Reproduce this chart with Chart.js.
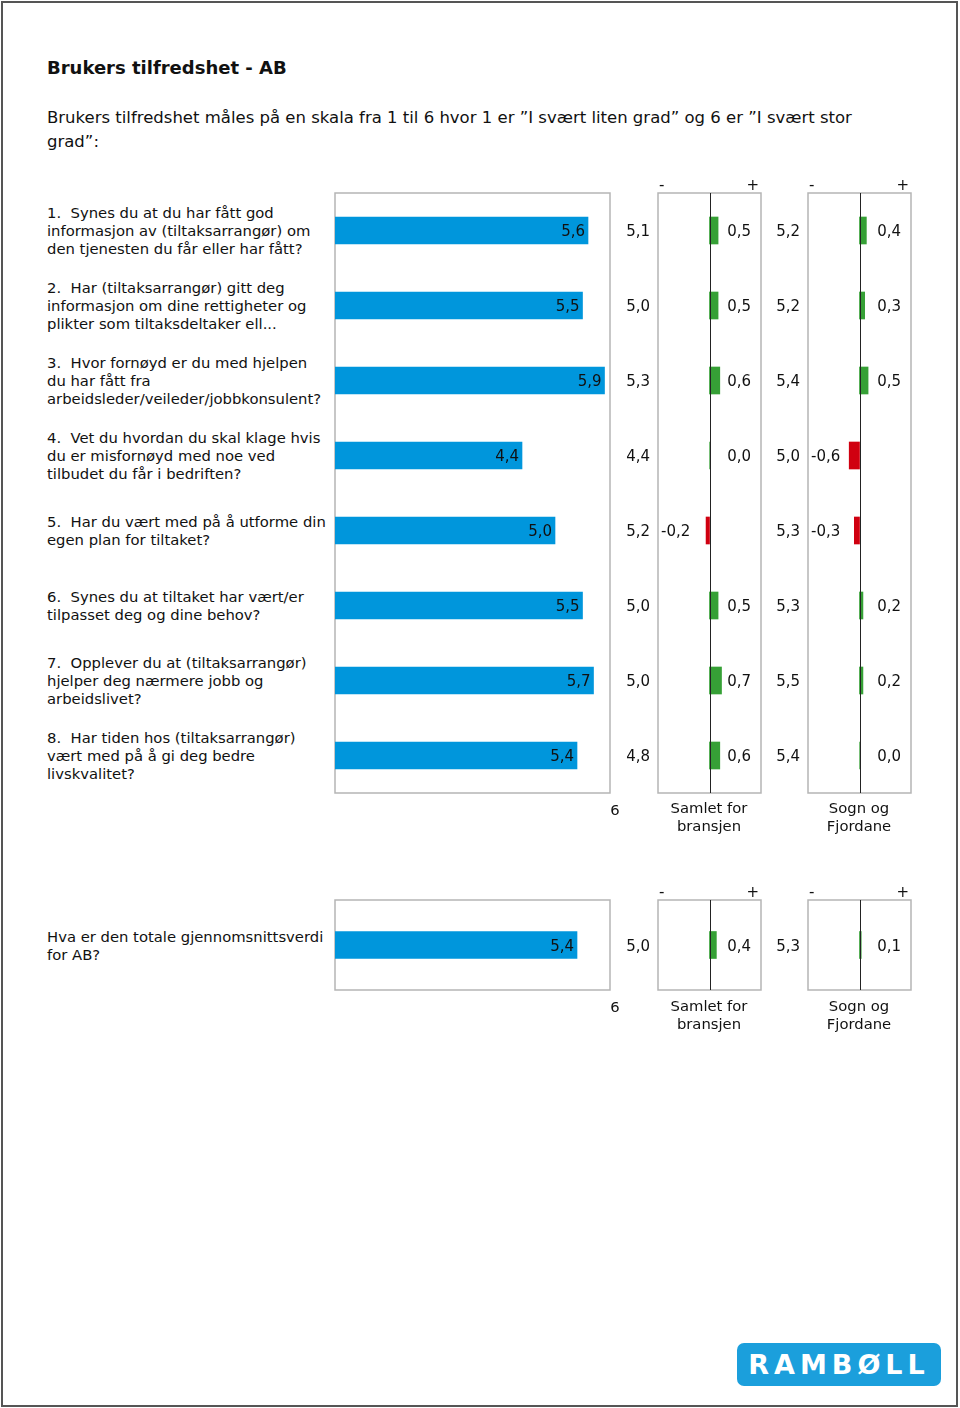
<!DOCTYPE html>
<html>
<head>
<meta charset="utf-8">
<script src="https://cdn.jsdelivr.net/npm/chart.js@4/dist/chart.umd.min.js"></script>
<style>
  body { margin:0; background:#fff; }
  #page { position:relative; width:960px; height:1408px; font-family:"DejaVu Sans", Verdana, sans-serif; color:#111; }
  #frame { position:absolute; left:1px; top:1px; width:953px; height:1402px; border:2px solid #555; }
  .abs { position:absolute; }
  h1 { position:absolute; left:47px; top:57px; margin:0; font-size:18px; font-weight:bold; }
  #intro { left:47px; top:106px; font-size:16.5px; line-height:24px; white-space:nowrap; }
  .qcol { position:absolute; left:47px; width:285px; }
  .q { height:75px; display:flex; align-items:center; font-size:14.8px; line-height:18px; white-space:pre; }
  .lbl { font-size:14.8px; line-height:18px; text-align:center; }
  canvas { position:absolute; }
  #logo { left:737px; top:1343px; width:204px; height:43px; background:#1b9fdc; border-radius:7px;
          color:#fff; font-weight:bold; font-size:27px; letter-spacing:5px; text-align:center; line-height:43px; }
</style>
</head>
<body>
<div id="page">
  <div id="frame"></div>
  <h1>Brukers tilfredshet - AB</h1>
  <div id="intro" class="abs">Brukers tilfredshet måles på en skala fra 1 til 6 hvor 1 er ”I svært liten grad” og 6 er ”I svært stor<br>grad”:</div>

  <div id="qcol1" class="qcol" style="top:193px"></div>
  <canvas id="main1" width="290" height="610" style="left:330px;top:188px"></canvas>
  <canvas id="diffB1" width="161" height="628" style="left:605px;top:170px"></canvas>
  <canvas id="diffS1" width="161" height="628" style="left:755px;top:170px"></canvas>
  <div class="abs lbl" style="left:607px;top:801px;width:16px">6</div>
  <div class="abs lbl" style="left:657px;top:799px;width:104px">Samlet for<br>bransjen</div>
  <div class="abs lbl" style="left:807px;top:799px;width:104px">Sogn og<br>Fjordane</div>

  <div id="qcol2" class="qcol" style="top:908px"></div>
  <canvas id="main2" width="290" height="100" style="left:330px;top:895px"></canvas>
  <canvas id="diffB2" width="161" height="118" style="left:605px;top:877px"></canvas>
  <canvas id="diffS2" width="161" height="118" style="left:755px;top:877px"></canvas>
  <div class="abs lbl" style="left:607px;top:998px;width:16px">6</div>
  <div class="abs lbl" style="left:657px;top:997px;width:104px">Samlet for<br>bransjen</div>
  <div class="abs lbl" style="left:807px;top:997px;width:104px">Sogn og<br>Fjordane</div>

  <div id="logo" class="abs">RAMBØLL</div>
</div>

<script>
var questions = [
  "1.  Synes du at du har fått god\ninformasjon av (tiltaksarrangør) om\nden tjenesten du får eller har fått?",
  "2.  Har (tiltaksarrangør) gitt deg\ninformasjon om dine rettigheter og\nplikter som tiltaksdeltaker ell...",
  "3.  Hvor fornøyd er du med hjelpen\ndu har fått fra\narbeidsleder/veileder/jobbkonsulent?",
  "4.  Vet du hvordan du skal klage hvis\ndu er misfornøyd med noe ved\ntilbudet du får i bedriften?",
  "5.  Har du vært med på å utforme din\negen plan for tiltaket?",
  "6.  Synes du at tiltaket har vært/er\ntilpasset deg og dine behov?",
  "7.  Opplever du at (tiltaksarrangør)\nhjelper deg nærmere jobb og\narbeidslivet?",
  "8.  Har tiden hos (tiltaksarrangør)\nvært med på å gi deg bedre\nlivskvalitet?"
];
var abValues       = [5.6, 5.5, 5.9, 4.4, 5.0, 5.5, 5.7, 5.4];
var bransjenValues = [5.1, 5.0, 5.3, 4.4, 5.2, 5.0, 5.0, 4.8];
var bransjenDiff   = [0.5, 0.5, 0.6, 0.0, -0.2, 0.5, 0.7, 0.6];
var sognValues     = [5.2, 5.2, 5.4, 5.0, 5.3, 5.3, 5.5, 5.4];
var sognDiff       = [0.4, 0.3, 0.5, -0.6, -0.3, 0.2, 0.2, 0.0];

var totalQuestion = ["Hva er den totale gjennomsnittsverdi\nfor AB?"];
var totalAb = [5.4];
var totalBransjen = [5.0];
var totalBransjenDiff = [0.4];
var totalSogn = [5.3];
var totalSognDiff = [0.1];

var FONT = '15px "DejaVu Sans", Verdana, sans-serif';
var BLUE = '#0096dc', GREEN = '#36a036', RED = '#d00010';

function fmt(v){ return v.toFixed(1).replace('.', ','); }

function fillQuestions(id, list){
  var el = document.getElementById(id);
  list.forEach(function(q){
    var d = document.createElement('div');
    d.className = 'q';
    d.textContent = q;
    el.appendChild(d);
  });
}
fillQuestions('qcol1', questions);
fillQuestions('qcol2', totalQuestion);

// grey frame round the plot area
var boxPlugin = {
  id: 'box',
  beforeDatasetsDraw: function(chart){
    var a = chart.chartArea, ctx = chart.ctx;
    ctx.save();
    ctx.strokeStyle = '#b5b5b5';
    ctx.lineWidth = 1.5;
    ctx.strokeRect(a.left, a.top, a.right - a.left, a.bottom - a.top);
    ctx.restore();
  }
};

var mainLabels = {
  id: 'mainLabels',
  afterDatasetsDraw: function(chart){
    var ctx = chart.ctx, meta = chart.getDatasetMeta(0);
    var data = chart.data.datasets[0].data;
    ctx.save();
    ctx.font = FONT; ctx.fillStyle = '#111';
    ctx.textAlign = 'right'; ctx.textBaseline = 'middle';
    meta.data.forEach(function(bar, i){
      ctx.fillText(fmt(data[i]), bar.x - 3, bar.y + 2);
    });
    ctx.restore();
  }
};

var diffLabels = {
  id: 'diffLabels',
  afterDatasetsDraw: function(chart, args, opts){
    var ctx = chart.ctx, a = chart.chartArea, x0 = chart.scales.x.getPixelForValue(0);
    var meta = chart.getDatasetMeta(0);
    var data = chart.data.datasets[0].data;
    ctx.save();
    ctx.strokeStyle = '#222'; ctx.lineWidth = 1;
    ctx.beginPath(); ctx.moveTo(Math.round(x0) + 0.5, a.top); ctx.lineTo(Math.round(x0) + 0.5, a.bottom); ctx.stroke();
    ctx.font = FONT; ctx.fillStyle = '#111'; ctx.textBaseline = 'middle';
    meta.data.forEach(function(bar, i){
      ctx.textAlign = 'right';
      ctx.fillText(fmt(opts.values[i]), a.left - 8, bar.y + 2);
      if (data[i] < 0) { ctx.textAlign = 'left'; ctx.fillText(fmt(data[i]), a.left + 3, bar.y + 2); }
      else { ctx.textAlign = 'right'; ctx.fillText(fmt(data[i]), a.right - 10, bar.y + 2); }
    });
    ctx.textAlign = 'left'; ctx.fillText('-', a.left + 1, a.top - 7);
    ctx.textAlign = 'right'; ctx.fillText('+', a.right - 2, a.top - 7);
    ctx.restore();
  }
};

function baseOptions(min, max, pad){
  return {
    indexAxis: 'y', responsive: false, animation: false,
    layout: { padding: pad },
    plugins: { legend: { display: false }, tooltip: { enabled: false } },
    scales: {
      x: { display: false, min: min, max: max },
      y: { display: false }
    }
  };
}

function mainChart(id, labels, values){
  return new Chart(document.getElementById(id), {
    type: 'bar',
    data: { labels: labels, datasets: [{ data: values, base: 1, backgroundColor: BLUE, barThickness: 27 }] },
    options: baseOptions(1, 6, { left: 5, top: 5, right: 10, bottom: 5 }),
    plugins: [boxPlugin, mainLabels]
  });
}

function diffChart(id, labels, diffs, values){
  var opt = baseOptions(-3, 3, { left: 53, top: 23, right: 5, bottom: 5 });
  opt.plugins.diffLabels = { values: values };
  return new Chart(document.getElementById(id), {
    type: 'bar',
    data: { labels: labels, datasets: [{
      data: diffs, barThickness: 27,
      backgroundColor: diffs.map(function(d){ return d < 0 ? RED : GREEN; })
    }] },
    options: opt,
    plugins: [boxPlugin, diffLabels]
  });
}

mainChart('main1', questions, abValues);
diffChart('diffB1', questions, bransjenDiff, bransjenValues);
diffChart('diffS1', questions, sognDiff, sognValues);

mainChart('main2', totalQuestion, totalAb);
diffChart('diffB2', totalQuestion, totalBransjenDiff, totalBransjen);
diffChart('diffS2', totalQuestion, totalSognDiff, totalSogn);
</script>
</body>
</html>
